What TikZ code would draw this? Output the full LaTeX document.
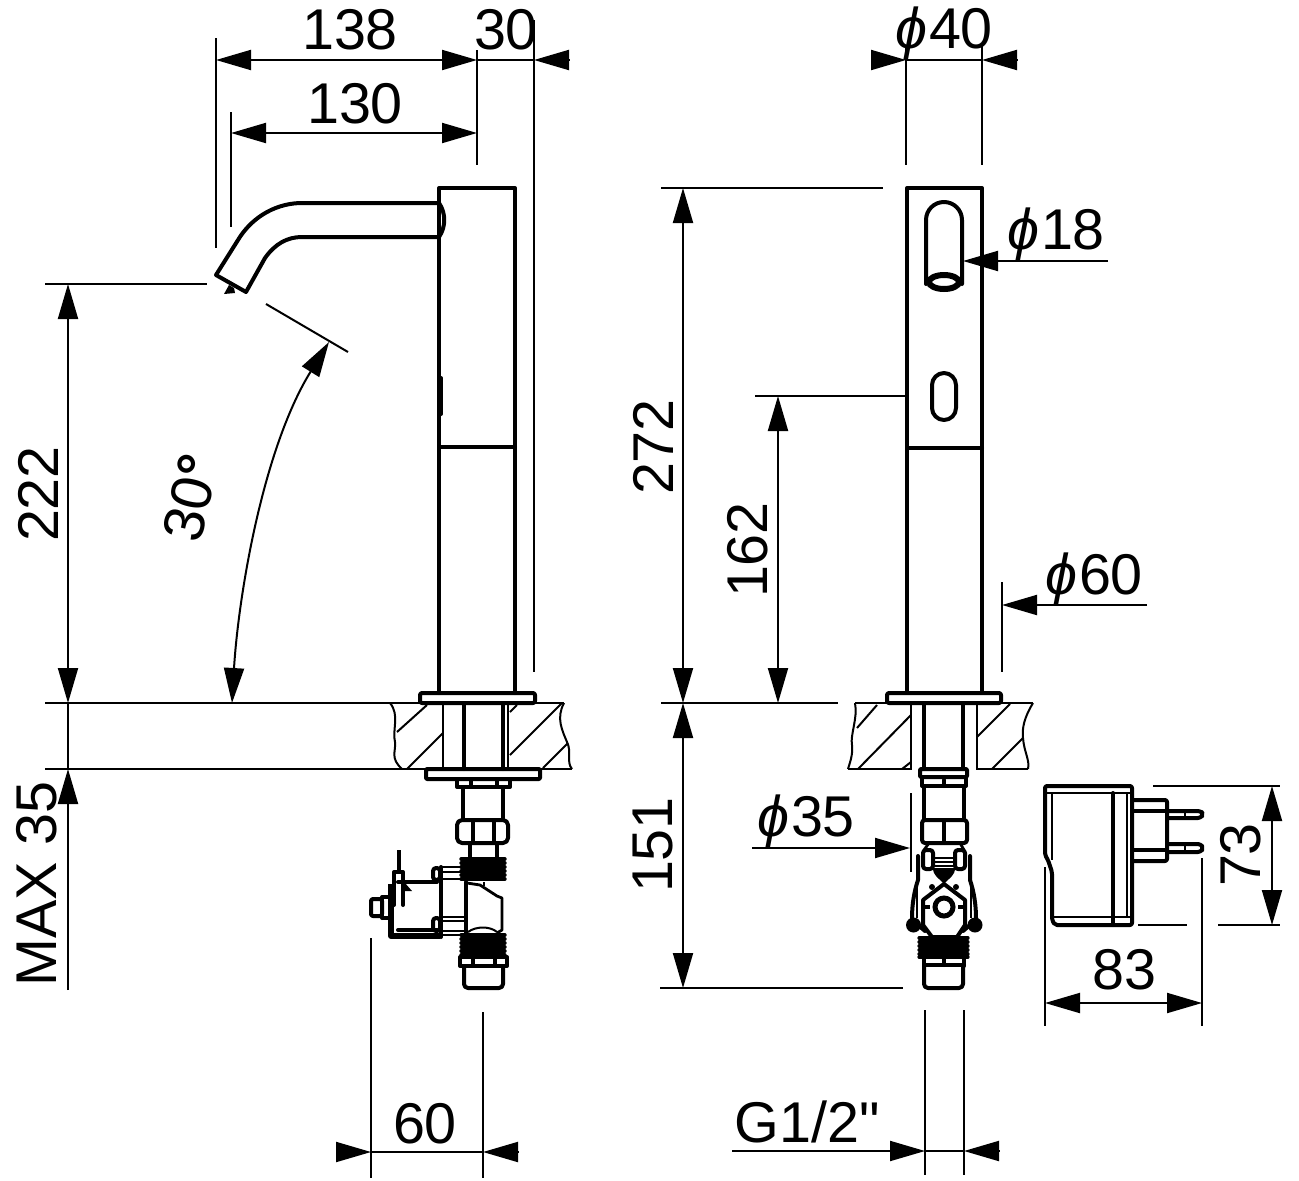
\documentclass[tikz,border=0pt]{standalone}
\usepackage{fontspec}
\setmainfont{Liberation Sans}
\newfontfamily\plainf{Liberation Sans}
\usetikzlibrary{arrows.meta}
\tikzset{
  x=1pt,y=-1pt,
  part/.style={line width=4pt,line join=round,line cap=round},
  heavy/.style={line width=5pt,line join=round,line cap=round},
  fine/.style={line width=2pt},
  med/.style={line width=2.8pt,line join=round},
  thread/.style={line width=3.4pt,line cap=round},
  dimline/.style={line width=2pt,{Triangle[length=35pt,width=20pt]}-{Triangle[length=35pt,width=20pt]}},
  tipend/.style={line width=2pt,-{Triangle[length=35pt,width=20pt]}},
  lbl/.style={inner sep=0pt,font=\fontsize{57.5}{60}\selectfont}
}
\newcommand{\ph}{{\itshape ϕ}\kern2pt}
\begin{document}
\begin{tikzpicture}
\useasboundingbox (0,0) rectangle (1299,1181);
%% ---- left view: faucet
\draw[part] (439,693) -- (439,188) -- (515,188) -- (515,693);
\draw[part] (439,447) -- (515,447);
\draw[part] (441,378) -- (441,414);
\draw[part,rounded corners=2pt] (420,693) rectangle (535,703);
% spout
\draw[part] (439,203) -- (300,203) .. controls (272,204) and (250,220) .. (238,240) -- (216,275) -- (246,292) -- (265,258) .. controls (275,244) and (287,237) .. (302,237) -- (439,237);
\draw[part] (439,203) .. controls (446,213) and (446,227) .. (439,237);
\fill (224,294) -- (229,285) -- (234,288) -- (235,293) -- cycle;
% table
\draw[fine] (45,703) -- (564,703);
\draw[fine] (45,769) -- (572,769);
\draw[fine] (390,703) .. controls (400,715) and (392,730) .. (395,742) .. controls (396,752) and (390,758) .. (402,769);
\draw[fine] (564,703) .. controls (556,718) and (562,730) .. (567,742) .. controls (572,752) and (566,762) .. (572,769);
\draw[fine] (397,732) -- (427,705) (407,769) -- (443,733) (510,755) -- (562,703) (543,768) -- (568,743) (510,712) -- (517,705);
\draw[fine] (443,703) -- (443,769) (508,703) -- (508,769);
\draw[part] (464,703) -- (464,769) (503,703) -- (503,769);
\draw[part,rounded corners=1pt] (426,769) rectangle (540,779);
\draw[part] (457,779) rectangle (510,787) (471,780) -- (471,786) (497,780) -- (497,786);
\draw[part] (463,787) -- (463,820) (503,787) -- (503,820);
\draw[part,rounded corners=5pt] (457,820) rectangle (508,843);
\draw[part] (473,821) -- (473,842) (494,821) -- (494,842);
\draw[part] (470,843) -- (470,858) (497,843) -- (497,858);
% upper thread
\foreach \yy in {859,863,867,871,875,879} \draw[thread] (461,\yy) -- (505,\yy);
% valve body
\draw[part] (466,882) -- (466,933);
\draw[med] (467,883) -- (480,885) -- (497,896) -- (502,898) -- (502,930) -- (497,933);
\draw[fine] (484,882) -- (484,886);
\draw[fine] (468,932) .. controls (476,926) and (490,926) .. (497,932);
% lower thread
\foreach \yy in {935,939,943,947,951,955} \draw[thread] (461,\yy) -- (505,\yy);
\draw[part] (460,957) rectangle (507,966) (473,958) -- (473,965) (495,958) -- (495,965);
\draw[part,rounded corners=4pt] (464,966) -- (464,988) -- (503,988) -- (503,966);
% solenoid
\draw[line width=6pt,line join=round] (391,884) -- (391,936) -- (440,936);
\draw[part] (398,882) -- (437,882) (398,930) -- (437,930);
\draw[part,rounded corners=3pt] (433,868) rectangle (440,880);
\draw[part,rounded corners=3pt] (433,918) rectangle (440,931);
\draw[part] (441,867) -- (441,937);
\draw[med] (441,867) -- (461,867) (443,872) -- (461,872) (443,879) -- (461,879);
\draw[med] (443,917) -- (466,917) (443,921) -- (466,921) (443,935) -- (461,935) (443,931) -- (466,931);
\draw[part,rounded corners=2pt] (371,899) rectangle (382,916);
\draw[part] (382,897) -- (388,897) (382,918) -- (388,918) (382,897) -- (382,918);
\draw[line width=4pt] (399,850) -- (399,870);
\draw[part] (394,905) -- (394,872) -- (403,872) -- (403,905);
\fill (405,883) -- (412,891) -- (404,891) -- cycle;
%% ---- right view: faucet
\draw[part] (907,188) rectangle (982,693);
\draw[part] (907,448) -- (982,448);
\draw[part,rounded corners=2pt] (887,693) rectangle (1001,703);
% outlet
\draw[part] (926,284) -- (926,220) arc[start angle=180,end angle=360,radius=18] -- (962,284);
\draw[line width=6pt] (944,282) ellipse[x radius=15,y radius=7];
\draw[part] (932,385) arc[start angle=180,end angle=360,radius=12] -- (956,408) arc[start angle=0,end angle=180,radius=12] -- cycle;
% table
\draw[fine] (661,703) -- (838,703) (855,703) -- (911,703) -- (911,769) -- (848,769);
\draw[fine] (977,703) -- (1033,703) (977,703) -- (977,769) -- (1028,769);
\draw[fine] (855,703) .. controls (858,718) and (850,735) .. (852,745) .. controls (853,755) and (850,762) .. (848,769);
\draw[fine] (1033,703) .. controls (1024,718) and (1022,728) .. (1023,738) .. controls (1024,752) and (1030,760) .. (1028,769);
\draw[fine] (857,728) -- (877,705) (858,769) -- (911,715) (902,769) -- (911,762) (977,737) -- (1010,704) (992,769) -- (1023,738);
\draw[part] (924,703) -- (924,769) (963,703) -- (963,769);
\draw[part,rounded corners=1pt] (920,769) rectangle (967,777);
\draw[part] (922,777) -- (922,786) (966,777) -- (966,786) (922,786) -- (966,786) (944,780) -- (944,786);
\draw[part] (924,786) -- (924,820) (964,786) -- (964,820);
\draw[part,rounded corners=3pt] (922,820) rectangle (967,843);
\draw[part] (944,821) -- (944,842);
\draw[med] (929,843) -- (924,850) (960,843) -- (964,850);
% valve front
\draw[part,rounded corners=3pt] (923,850) rectangle (933,869);
\draw[part,rounded corners=3pt] (955,850) rectangle (965,869);
\draw[part] (918,856) -- (918,880) .. controls (914,892) and (912,905) .. (912,918);
\draw[part] (970,856) -- (970,880) .. controls (974,892) and (976,905) .. (976,918);
\draw[med] (917,882) -- (917,918) (971,882) -- (971,918);
\draw[med] (933,858) -- (955,858) (933,862) -- (955,862) (933,866) -- (955,866);
\fill (933,868) -- (955,868) .. controls (955,876) and (949,878) .. (944,884) .. controls (939,878) and (933,876) .. (933,868) -- cycle;
\draw[part] (923,900) -- (944,884) -- (965,900) -- (965,925) -- (957,937) -- (932,937) -- (923,925) -- cycle;
\fill (932,887) circle[radius=3] (956,887) circle[radius=3];
\fill (913.5,925) circle[radius=7.5] (975,925) circle[radius=7.5];
\draw[line width=5pt] (944,907) circle[radius=9];
\draw[line width=4pt] (924,907) -- (930,907) (958,907) -- (965,907);
\draw[part] (918,925) -- (925,931) (970,925) -- (963,931);
\foreach \yy in {938,942,946,950,954,957} \draw[line width=3.2pt,line cap=round] (919,\yy) -- (968,\yy);
\draw[part] (924,958) -- (924,966) (964,958) -- (964,966) (924,965) -- (964,965) (944,958) -- (944,965);
\draw[part,rounded corners=4pt] (924,966) -- (924,988) -- (963,988) -- (963,966);
%% ---- plug adapter
\draw[part,rounded corners=2pt] (1045,786) -- (1132,786) -- (1132,925) -- (1055,925) -- (1052,920) -- (1052,872) -- (1048,860) -- (1045,855) -- cycle;
\draw[med] (1046,793) -- (1131,793) (1052,793) -- (1052,860) (1054,917) -- (1131,917) (1127,793) -- (1127,917);
\draw[part] (1113,793) -- (1113,925);
\draw[part,rounded corners=2pt] (1132,800) -- (1167,800) -- (1167,861) -- (1132,861);
\draw[part] (1132,811) -- (1167,811) (1132,850) -- (1167,850);
\draw[part,rounded corners=3pt] (1167,811) -- (1201,811) -- (1203,814) -- (1201,818) -- (1167,818);
\draw[part,rounded corners=3pt] (1167,844) -- (1201,844) -- (1203,848) -- (1201,852) -- (1167,852);
\draw[med] (1185,811) -- (1185,818) (1185,844) -- (1185,852);
%% ---- dimensions, left
\draw[fine] (216,38) -- (216,248) (231,112) -- (231,227) (477,50) -- (477,165) (534,20) -- (534,672);
\draw[dimline] (216,60) -- (477,60);
\draw[tipend] (569,60) -- (534,60);
\draw[fine] (477,60) -- (534,60);
\draw[dimline] (231,133) -- (477,133);
\node[lbl] (d138) at (350,30) {138};
\node[lbl] (d30) at (506,30) {30};
\node[lbl] (d130) at (355,104) {130};
\draw[fine] (45,284) -- (207,284);
\draw[dimline] (68,284) -- (68,703);
\draw[fine] (68,703) -- (68,769);
\draw[tipend] (68,990) -- (68,769);
\node[lbl,rotate=90] (d222) at (38,494) {222};
\node[lbl,rotate=90] (dmax) at (37,884) {MAX\ 35};
\draw[fine] (266,304) -- (348,352);
\draw[tipend,{Triangle[length=35pt,width=20pt]}-{Triangle[length=35pt,width=20pt]}] (232,703) .. controls (238,600) and (262,450) .. (329,342);
\node[lbl,rotate=77] (d30deg) at (191,498) {30\raisebox{0pt}{\bfseries °}};
\draw[fine] (371,938) -- (371,1178) (483,1012) -- (483,1178);
\draw[tipend] (336,1152) -- (371,1152);
\draw[tipend] (518,1152) -- (483,1152);
\draw[fine] (371,1152) -- (483,1152);
\node[lbl] (d60) at (425,1124) {60};
%% ---- dimensions, right
\draw[fine] (906,45) -- (906,165) (982,45) -- (982,165);
\draw[tipend] (871,60) -- (906,60);
\draw[tipend] (1017,60) -- (982,60);
\draw[fine] (906,60) -- (982,60);
\node[lbl] (dp40) at (944,34) {\ph 40};
\draw[tipend] (1108,261) -- (963,261);
\node[lbl] (dp18) at (1056,235) {\ph 18};
\draw[fine] (661,188) -- (883,188);
\draw[dimline] (683,188) -- (683,703);
\node[lbl,rotate=90] (d272) at (653,447) {272};
\draw[fine] (755,396) -- (907,396);
\draw[dimline] (778,396) -- (778,703);
\node[lbl,rotate=90] (d162) at (748,550) {162};
\draw[fine] (1002,582) -- (1002,672);
\draw[tipend] (1147,605) -- (1002,605);
\node[lbl] (dp60) at (1094,580) {\ph 60};
\draw[fine] (660,988) -- (903,988);
\draw[dimline] (683,703) -- (683,988);
\node[lbl,rotate=90] (d151) at (653,845) {151};
\draw[fine] (911,793) -- (911,872);
\draw[tipend] (752,848) -- (910,848);
\node[lbl] (dp35) at (806,822) {\ph 35};
\draw[fine] (925,1010) -- (925,1175) (964,1010) -- (964,1175);
\draw[tipend] (732,1151) -- (925,1151);
\draw[tipend] (999,1151) -- (964,1151);
\draw[fine] (925,1151) -- (964,1151);
\node[lbl] (dg) at (807,1122) {G1/2{\plainf"}};
\draw[fine] (1153,786) -- (1280,786) (1138,925) -- (1187,925) (1218,925) -- (1280,925);
\draw[dimline] (1272,786) -- (1272,925);
\node[lbl,rotate=90] (d73) at (1241,855) {73};
\draw[fine] (1045,867) -- (1045,1026) (1202,858) -- (1202,1026);
\draw[dimline] (1045,1003) -- (1202,1003);
\node[lbl] (d83) at (1124,970) {83};
\end{tikzpicture}
\end{document}
